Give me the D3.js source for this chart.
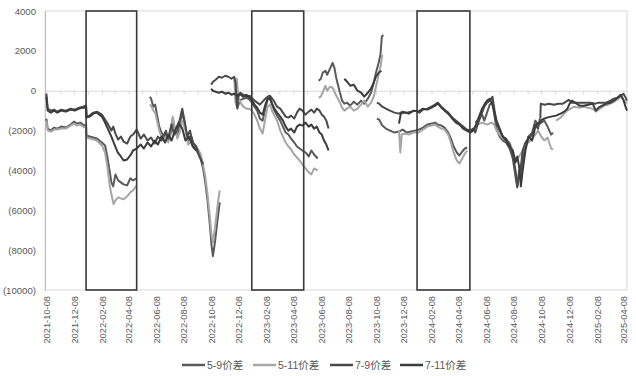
<!DOCTYPE html>
<html>
<head>
<meta charset="utf-8">
<script src="https://cdn.jsdelivr.net/npm/d3@7/dist/d3.min.js"></script>
<style>
  html, body { margin: 0; padding: 0; background: #fff; }
  #chart { width: 636px; height: 376px; }
  text { font-family: 'Liberation Sans', Arial, sans-serif; fill: #595959; }
  .legend text { font-family: 'Liberation Sans', 'Noto Sans CJK SC', sans-serif; }
</style>
</head>
<body>
<div id="chart"></div>
<script>
'use strict';

// x tick labels (every 2 months) and the y ticks
const tickLabels = ['2021-10-08','2021-12-08','2022-02-08','2022-04-08','2022-06-08','2022-08-08',
  '2022-10-08','2022-12-08','2023-02-08','2023-04-08','2023-06-08','2023-08-08','2023-10-08',
  '2023-12-08','2024-02-08','2024-04-08','2024-06-08','2024-08-08','2024-10-08','2024-12-08',
  '2025-02-08','2025-04-08'];
const yTicks = [4000, 2000, 0, -2000, -4000, -6000, -8000, -10000];
const xDomain = ['2021-10-05', '2025-04-16'];

// highlighted periods (Jan - Apr of each year)
const boxes = [['2022-01-04','2022-04-26'], ['2023-01-06','2023-05-01'], ['2024-01-07','2024-05-03']];

const seriesNames = ['5-9价差', '5-11价差', '7-9价差', '7-11价差'];
const seriesColors = ['#5a5a5a', '#a6a6a6', '#4a4a4a', '#3c3c3c'];

// each series: list of segments, each segment a list of [date, value]
const s59 = [
  [['2021-10-08',-1400],['2021-10-11',-1900],['2021-10-18',-2000],['2021-10-25',-1850],['2021-11-01',-1900],
   ['2021-11-10',-1800],['2021-11-20',-1850],['2021-12-01',-1700],['2021-12-08',-1550],['2021-12-15',-1650],
   ['2021-12-22',-1600],['2021-12-28',-1700],['2022-01-04',-1750],['2022-01-05',-2250],['2022-01-12',-2300],
   ['2022-01-20',-2350],['2022-01-28',-2400],['2022-02-08',-2600],['2022-02-15',-2750],['2022-02-20',-3300],
   ['2022-02-25',-4000],['2022-03-01',-4600],['2022-03-05',-4800],['2022-03-10',-4200],['2022-03-16',-4500],
   ['2022-03-22',-4600],['2022-03-28',-4700],['2022-04-05',-4750],['2022-04-12',-4400],['2022-04-18',-4500],
   ['2022-04-26',-4400]],
  [['2022-05-25',-300],['2022-05-28',-400],['2022-06-02',-800],['2022-06-06',-700],['2022-06-10',-1200],
   ['2022-06-15',-1800],['2022-06-20',-2100],['2022-06-25',-2300],['2022-06-30',-2000],['2022-07-05',-2500],
   ['2022-07-10',-2200],['2022-07-15',-1400],['2022-07-20',-2000],['2022-07-25',-2300],['2022-07-30',-1900],
   ['2022-08-04',-1100],['2022-08-08',-1400],['2022-08-12',-1800],['2022-08-18',-2500],['2022-08-25',-2300],
   ['2022-09-01',-2800],['2022-09-08',-3100],['2022-09-15',-3400],['2022-09-20',-3900],['2022-09-25',-4600],
   ['2022-09-30',-5500],['2022-10-05',-6700],['2022-10-09',-7800],['2022-10-12',-8300],['2022-10-17',-7500],
   ['2022-10-22',-6500],['2022-10-27',-5600]],
  [['2022-12-01',-300],['2022-12-05',-900],['2022-12-10',-500],['2022-12-18',-400],['2022-12-25',-350],
   ['2023-01-01',-450],['2023-01-06',-600],['2023-01-12',-800],['2023-01-18',-1000],['2023-01-24',-1400],
   ['2023-01-30',-1500],['2023-02-05',-900],['2023-02-10',-450],['2023-02-15',-400],['2023-02-20',-700],
   ['2023-02-25',-1000],['2023-03-03',-1250],['2023-03-10',-1500],['2023-03-16',-1800],['2023-03-22',-2100],
   ['2023-03-28',-2200],['2023-04-03',-2400],['2023-04-10',-2600],['2023-04-16',-2800],['2023-04-22',-2900],
   ['2023-04-28',-3000],['2023-05-05',-3100],['2023-05-12',-3300],['2023-05-18',-3000],['2023-05-24',-3200],
   ['2023-06-01',-3400]],
  [['2023-06-03',500],['2023-06-08',600],['2023-06-12',900],['2023-06-18',1000],['2023-06-22',800],
   ['2023-06-28',1100],['2023-07-04',1400],['2023-07-08',1150],['2023-07-12',650],['2023-07-18',100],
   ['2023-07-25',-500],['2023-07-30',-650],['2023-08-05',-600],['2023-08-12',-750],['2023-08-20',-550],
   ['2023-08-28',-700],['2023-09-05',-500],['2023-09-12',-650],['2023-09-20',-400],['2023-09-27',-100],
   ['2023-10-03',400],['2023-10-08',900],['2023-10-14',1400],['2023-10-18',1800],['2023-10-21',2700],
   ['2023-10-24',2800]],
  [['2023-10-10',-1400],['2023-10-15',-1450],['2023-10-22',-1750],['2023-10-30',-1900],['2023-11-08',-2000],
   ['2023-11-18',-2100],['2023-11-28',-2050],['2023-12-06',-1950],['2023-12-15',-2100],['2023-12-25',-2050],
   ['2024-01-04',-2000],['2024-01-12',-1950],['2024-01-20',-1850],['2024-01-30',-1700],['2024-02-08',-1650],
   ['2024-02-16',-1600],['2024-02-22',-1700],['2024-03-01',-1750],['2024-03-08',-1850],['2024-03-16',-2100],
   ['2024-03-22',-2400],['2024-03-28',-2800],['2024-04-04',-3100],['2024-04-10',-3250],['2024-04-16',-3050],
   ['2024-04-22',-2900],['2024-04-27',-2850]],
  [['2024-05-15',-1600],['2024-05-20',-1500],['2024-05-25',-1300],['2024-05-30',-1200],['2024-06-04',-1500],
   ['2024-06-10',-1100],['2024-06-16',-700],['2024-06-22',-600],['2024-06-26',-1200],['2024-07-01',-1900],
   ['2024-07-08',-2300],['2024-07-15',-2500],['2024-07-22',-2600],['2024-07-30',-2900],['2024-08-06',-3400],
   ['2024-08-12',-4300],['2024-08-16',-4850],['2024-08-20',-4000],['2024-08-24',-4500],['2024-08-28',-3500],
   ['2024-09-03',-2800],['2024-09-10',-2300],['2024-09-18',-2100],['2024-09-25',-1500],['2024-10-01',-1700],
   ['2024-10-08',-1600],['2024-10-15',-1500],['2024-10-22',-1800],['2024-10-30',-2200],['2024-11-03',-2100]]
];

const s511 = [
  [['2021-10-08',-1500],['2021-10-11',-2000],['2021-10-18',-2050],['2021-10-25',-1950],['2021-11-01',-1950],
   ['2021-11-10',-1900],['2021-11-20',-1900],['2021-12-01',-1750],['2021-12-08',-1650],['2021-12-15',-1750],
   ['2021-12-22',-1700],['2021-12-28',-1800],['2022-01-04',-1850],['2022-01-05',-2350],['2022-01-12',-2400],
   ['2022-01-20',-2450],['2022-01-28',-2500],['2022-02-08',-2750],['2022-02-15',-3100],['2022-02-20',-3800],
   ['2022-02-25',-4700],['2022-03-01',-5200],['2022-03-06',-5700],['2022-03-10',-5500],['2022-03-16',-5350],
   ['2022-03-22',-5400],['2022-03-28',-5450],['2022-04-05',-5300],['2022-04-12',-5100],['2022-04-18',-5000],
   ['2022-04-26',-4750]],
  [['2022-05-25',-700],['2022-05-28',-750],['2022-06-02',-1000],['2022-06-06',-1100],['2022-06-10',-1500],
   ['2022-06-15',-2000],['2022-06-20',-2300],['2022-06-25',-2500],['2022-06-30',-2200],['2022-07-05',-2600],
   ['2022-07-10',-2000],['2022-07-15',-1300],['2022-07-20',-1900],['2022-07-25',-2400],['2022-07-30',-2100],
   ['2022-08-04',-1500],['2022-08-08',-1700],['2022-08-12',-2000],['2022-08-18',-2700],['2022-08-25',-2500],
   ['2022-09-01',-2700],['2022-09-08',-2900],['2022-09-15',-3200],['2022-09-20',-3700],['2022-09-25',-4300],
   ['2022-09-30',-5200],['2022-10-05',-6300],['2022-10-09',-7300],['2022-10-12',-7600],['2022-10-17',-6800],
   ['2022-10-22',-5800],['2022-10-27',-5000]],
  [['2022-11-28',700],['2022-12-01',-600],['2022-12-04',600],['2022-12-07',-300],['2022-12-12',-600],
   ['2022-12-18',-800],['2022-12-25',-900],['2023-01-01',-900],['2023-01-06',-1000],['2023-01-12',-1200],
   ['2023-01-18',-1500],['2023-01-24',-1900],['2023-01-30',-2150],['2023-02-05',-1400],['2023-02-10',-800],
   ['2023-02-15',-700],['2023-02-20',-1000],['2023-02-25',-1250],['2023-03-03',-1500],['2023-03-10',-2000],
   ['2023-03-16',-2300],['2023-03-22',-2600],['2023-03-28',-2800],['2023-04-03',-2950],['2023-04-10',-3200],
   ['2023-04-16',-3350],['2023-04-22',-3500],['2023-04-28',-3700],['2023-05-05',-3900],['2023-05-12',-4100],
   ['2023-05-18',-4200],['2023-05-24',-3900],['2023-06-01',-4000]],
  [['2023-06-03',-350],['2023-06-08',-300],['2023-06-12',-100],['2023-06-18',250],['2023-06-22',0],
   ['2023-06-28',200],['2023-07-04',150],['2023-07-10',-150],['2023-07-18',-500],['2023-07-25',-850],
   ['2023-07-30',-1000],['2023-08-05',-900],['2023-08-12',-800],['2023-08-20',-1000],['2023-08-28',-900],
   ['2023-09-05',-700],['2023-09-12',-500],['2023-09-20',-800],['2023-09-27',-600],['2023-10-03',-300],
   ['2023-10-08',200],['2023-10-14',800],['2023-10-18',1200],['2023-10-22',1800]],
  [['2023-11-28',-2000],['2023-12-01',-3100],['2023-12-04',-2200],['2023-12-10',-2150],['2023-12-20',-2200],
   ['2023-12-30',-2100],['2024-01-10',-2100],['2024-01-20',-1950],['2024-01-30',-1800],['2024-02-08',-1750],
   ['2024-02-16',-1700],['2024-02-22',-1800],['2024-03-01',-1900],['2024-03-08',-1950],['2024-03-16',-2200],
   ['2024-03-22',-2600],['2024-03-28',-3100],['2024-04-04',-3500],['2024-04-10',-3650],['2024-04-16',-3400],
   ['2024-04-22',-3150],['2024-04-27',-3000]],
  [['2024-05-20',-1700],['2024-05-30',-1600],['2024-06-10',-1700],['2024-06-20',-1600],['2024-06-26',-1700],
   ['2024-07-01',-2000],['2024-07-08',-2200],['2024-07-15',-2400],['2024-07-22',-2500],['2024-07-30',-2600],
   ['2024-08-06',-3000],['2024-08-12',-3500],['2024-08-16',-3400],['2024-08-20',-3300],['2024-08-28',-3000],
   ['2024-09-03',-2700],['2024-09-10',-2600],['2024-09-18',-2400],['2024-09-25',-2200],['2024-10-01',-2000],
   ['2024-10-08',-2300],['2024-10-15',-2500],['2024-10-22',-2350],['2024-10-30',-2900],['2024-11-03',-2950]],
  [['2024-11-10',-1500],['2024-11-20',-1350],['2024-11-28',-1150],['2024-12-05',-1000],['2024-12-12',-900],
   ['2024-12-20',-800],['2025-01-01',-850],['2025-01-10',-800],['2025-01-20',-850],['2025-01-30',-900],
   ['2025-02-06',-1050],['2025-02-15',-900],['2025-02-25',-750],['2025-03-05',-700],['2025-03-15',-600],
   ['2025-03-25',-450],['2025-04-02',-300],['2025-04-10',-500],['2025-04-16',-650]]
];

const s79 = [
  [['2021-10-08',-150],['2021-10-11',-900],['2021-10-18',-1000],['2021-10-25',-950],['2021-11-01',-1050],
   ['2021-11-10',-950],['2021-11-20',-1000],['2021-12-01',-900],['2021-12-10',-950],['2021-12-20',-850],
   ['2021-12-28',-800],['2022-01-04',-750],['2022-01-05',-1300],['2022-01-12',-1250],['2022-01-20',-1100],
   ['2022-01-28',-1050],['2022-02-08',-1200],['2022-02-15',-1450],['2022-02-22',-1700],['2022-03-01',-2000],
   ['2022-03-05',-1800],['2022-03-10',-2150],['2022-03-16',-2450],['2022-03-22',-2300],['2022-03-28',-2550],
   ['2022-04-05',-2650],['2022-04-12',-2300],['2022-04-18',-2200],['2022-04-26',-1950],['2022-04-28',-2050],
   ['2022-05-05',-2400],['2022-05-12',-2200],['2022-05-20',-2500],['2022-05-28',-2350],['2022-06-05',-2650],
   ['2022-06-12',-2300],['2022-06-20',-2500],['2022-06-28',-2100],['2022-07-05',-2400],['2022-07-12',-1700],
   ['2022-07-18',-2200],['2022-07-25',-2000],['2022-08-01',-1300],['2022-08-05',-900],['2022-08-10',-1500],
   ['2022-08-16',-2300],['2022-08-22',-2000],['2022-08-28',-2600],['2022-09-05',-2800],['2022-09-12',-3300],
   ['2022-09-20',-3700]],
  [['2022-10-08',300],['2022-10-12',450],['2022-10-18',550],['2022-10-25',700],['2022-11-01',650],
   ['2022-11-08',750],['2022-11-15',700],['2022-11-22',600],['2022-11-28',700],['2022-12-01',400],
   ['2022-12-04',-800],['2022-12-07',-300],['2022-12-12',-100],['2022-12-18',-200],['2022-12-25',-300],
   ['2023-01-01',-250],['2023-01-06',-350],['2023-01-12',-500],['2023-01-18',-600],['2023-01-24',-700],
   ['2023-01-30',-550],['2023-02-05',-400],['2023-02-10',-300],['2023-02-15',-250],['2023-02-20',-400],
   ['2023-02-25',-550],['2023-03-03',-800],['2023-03-10',-900],['2023-03-16',-1100],['2023-03-22',-1300],
   ['2023-03-28',-1350],['2023-04-03',-1250],['2023-04-10',-1400],['2023-04-16',-1100],['2023-04-22',-900],
   ['2023-04-28',-1000],['2023-05-05',-1200],['2023-05-12',-1050],['2023-05-18',-950],['2023-05-24',-1100],
   ['2023-05-30',-900],['2023-06-05',-1000],['2023-06-10',-1200],['2023-06-15',-1300],['2023-06-20',-1500],
   ['2023-06-25',-1900]],
  [['2023-10-10',-600],['2023-10-15',-650],['2023-10-22',-800],['2023-10-30',-900],['2023-11-08',-1000],
   ['2023-11-18',-1100],['2023-11-28',-1150],['2023-12-06',-1050],['2023-12-15',-1100],['2023-12-25',-1050],
   ['2024-01-04',-1000],['2024-01-12',-1100],['2024-01-20',-950],['2024-01-30',-900],['2024-02-08',-800],
   ['2024-02-16',-700],['2024-02-22',-600],['2024-03-01',-800],['2024-03-08',-950],['2024-03-16',-1100],
   ['2024-03-25',-1350],['2024-04-02',-1500],['2024-04-10',-1650],['2024-04-18',-1800],['2024-04-26',-1950],
   ['2024-05-04',-2000],['2024-05-10',-1900],['2024-05-15',-2100],['2024-05-20',-1700],['2024-05-25',-1400],
   ['2024-05-30',-1100],['2024-06-04',-800],['2024-06-10',-600],['2024-06-16',-500],['2024-06-22',-300],
   ['2024-06-26',-900],['2024-07-01',-1600],['2024-07-08',-2000],['2024-07-15',-2300],['2024-07-22',-2400],
   ['2024-07-30',-2700],['2024-08-06',-3200],['2024-08-12',-4000],['2024-08-16',-4800],['2024-08-20',-4200],
   ['2024-08-24',-3800],['2024-08-28',-3000],['2024-09-03',-2600],['2024-09-10',-2400],['2024-09-18',-2200],
   ['2024-09-25',-1700],['2024-10-01',-1900],['2024-10-05',-1400]],
  [['2024-10-06',-1400],['2024-10-07',-650],['2024-10-15',-700],['2024-10-25',-650],['2024-11-05',-700],
   ['2024-11-15',-650],['2024-11-25',-650],['2024-12-02',-550],['2024-12-08',-450],['2024-12-15',-600],
   ['2024-12-25',-600],['2025-01-05',-600],['2025-01-15',-600],['2025-01-25',-600],['2025-02-05',-650],
   ['2025-02-12',-600],['2025-02-20',-600],['2025-03-01',-600],['2025-03-10',-500],['2025-03-18',-400],
   ['2025-03-26',-350],['2025-04-02',-250],['2025-04-08',-150],['2025-04-12',-300],['2025-04-16',-500]]
];

const s711 = [
  [['2021-10-08',-300],['2021-10-11',-1000],['2021-10-18',-1100],['2021-10-25',-1000],['2021-11-01',-1100],
   ['2021-11-10',-1000],['2021-11-20',-1050],['2021-12-01',-950],['2021-12-10',-1000],['2021-12-20',-900],
   ['2021-12-28',-850],['2022-01-04',-850],['2022-01-05',-1350],['2022-01-12',-1300],['2022-01-20',-1150],
   ['2022-01-28',-1100],['2022-02-08',-1300],['2022-02-15',-1600],['2022-02-22',-1950],['2022-03-01',-2300],
   ['2022-03-08',-2700],['2022-03-15',-3100],['2022-03-22',-3300],['2022-03-28',-3500],['2022-04-05',-3450],
   ['2022-04-12',-3250],['2022-04-18',-3000],['2022-04-26',-2900],['2022-05-05',-2700],['2022-05-12',-2900],
   ['2022-05-20',-2600],['2022-05-28',-2800],['2022-06-05',-2500],['2022-06-12',-2700],['2022-06-20',-2300],
   ['2022-06-28',-2600],['2022-07-05',-2200],['2022-07-12',-2500],['2022-07-20',-2000],['2022-07-28',-1600],
   ['2022-08-05',-1900],['2022-08-12',-2500],['2022-08-20',-2300],['2022-08-28',-2800],['2022-09-05',-3000]],
  [['2022-10-08',100],['2022-10-12',0],['2022-10-18',-50],['2022-10-25',-100],['2022-11-01',-50],
   ['2022-11-08',-150],['2022-11-15',-100],['2022-11-22',-200],['2022-11-28',-150],['2022-12-04',-250],
   ['2022-12-10',-150],['2022-12-18',-300],['2022-12-25',-200],['2023-01-01',-350],['2023-01-06',-450],
   ['2023-01-12',-700],['2023-01-18',-850],['2023-01-24',-1100],['2023-01-30',-1200],['2023-02-05',-700],
   ['2023-02-10',-400],['2023-02-15',-350],['2023-02-20',-650],['2023-02-25',-900],['2023-03-03',-1100],
   ['2023-03-10',-1300],['2023-03-16',-1500],['2023-03-22',-1800],['2023-03-28',-2000],['2023-04-03',-1900],
   ['2023-04-10',-2100],['2023-04-16',-1800],['2023-04-22',-1700],['2023-04-28',-1750],['2023-05-05',-1600],
   ['2023-05-12',-1800],['2023-05-18',-1700],['2023-05-24',-1900],['2023-05-30',-1800],['2023-06-05',-2100],
   ['2023-06-10',-2200],['2023-06-15',-2500],['2023-06-20',-2700],['2023-06-25',-3000]],
  [['2023-07-30',600],['2023-08-05',450],['2023-08-12',250],['2023-08-20',300],['2023-08-28',0],
   ['2023-09-05',-100],['2023-09-12',-300],['2023-09-20',-100],['2023-09-27',100],['2023-10-03',400],
   ['2023-10-08',700],['2023-10-14',900],['2023-10-20',1000]],
  [['2023-11-28',-1650],['2023-12-02',-1150],['2023-12-10',-1100],['2023-12-20',-1150],['2023-12-30',-1000],
   ['2024-01-10',-1050],['2024-01-20',-900],['2024-01-30',-950],['2024-02-08',-850],['2024-02-16',-750],
   ['2024-02-22',-650],['2024-03-01',-850],['2024-03-08',-1000],['2024-03-16',-1150],['2024-03-25',-1400],
   ['2024-04-02',-1600],['2024-04-10',-1700],['2024-04-18',-1900],['2024-04-26',-2000],['2024-05-04',-2100],
   ['2024-05-10',-2000],['2024-05-15',-1800],['2024-05-20',-1500],['2024-05-25',-1200],['2024-05-30',-900],
   ['2024-06-04',-700],['2024-06-10',-500],['2024-06-16',-400],['2024-06-22',-700],['2024-07-01',-1500],
   ['2024-07-08',-1900],['2024-07-15',-2300],['2024-07-22',-2500],['2024-07-30',-2800],['2024-08-06',-3000],
   ['2024-08-12',-3600],['2024-08-16',-3300],['2024-08-20',-3800],['2024-08-24',-4800],['2024-08-28',-4000],
   ['2024-09-03',-3000],['2024-09-10',-2300],['2024-09-18',-2500],['2024-09-25',-1800],['2024-10-01',-1600]],
  [['2024-10-02',-1700],['2024-10-10',-1450],['2024-10-20',-1350],['2024-10-30',-1300],['2024-11-10',-1250],
   ['2024-11-20',-1150],['2024-11-28',-1050],['2024-12-05',-900],['2024-12-10',-650],['2024-12-15',-500],
   ['2024-12-22',-600],['2025-01-01',-750],['2025-01-10',-750],['2025-01-20',-700],['2025-01-30',-650],
   ['2025-02-06',-1000],['2025-02-12',-850],['2025-02-20',-750],['2025-03-01',-650],['2025-03-10',-600],
   ['2025-03-18',-500],['2025-03-26',-350],['2025-04-02',-200],['2025-04-08',-450],['2025-04-12',-750],
   ['2025-04-16',-1000]]
];

const allSeries = [s59, s511, s79, s711];

const PLOT = { left: 45, right: 627, top: 11, bottom: 290 };
const parse = d3.timeParse('%Y-%m-%d');

const svg = d3.select('#chart').append('svg')
  .attr('width', 636).attr('height', 376);

const x = d3.scaleTime()
  .domain(xDomain.map(parse))
  .range([PLOT.left, PLOT.right]);

const y = d3.scaleLinear()
  .domain([-10000, 4000])
  .range([PLOT.bottom, PLOT.top]);

const fmtY = v => v < 0 ? `(${Math.abs(v)})` : String(v);

// plot frame (top / right / bottom)
svg.append('rect')
  .attr('x', PLOT.left).attr('y', PLOT.top)
  .attr('width', PLOT.right - PLOT.left).attr('height', PLOT.bottom - PLOT.top)
  .attr('fill', 'none').attr('stroke', '#d9d9d9').attr('stroke-width', 1);

// Y axis
svg.append('g')
  .attr('transform', `translate(${PLOT.left},0)`)
  .call(d3.axisLeft(y).tickValues(yTicks).tickSize(0).tickPadding(9).tickFormat(fmtY))
  .call(g => g.select('.domain').attr('stroke', '#bfbfbf'))
  .call(g => g.selectAll('text').style('font-size', '9.6px').attr('fill', '#595959'));

// zero line with monthly tick marks
const monthTicks = d3.timeMonth.range(parse('2021-10-01'), parse('2025-05-01'))
  .map(d => new Date(d.getFullYear(), d.getMonth(), 8))
  .filter(d => d >= x.domain()[0] && d <= x.domain()[1]);

svg.append('g')
  .attr('transform', `translate(0,${y(0)})`)
  .call(d3.axisBottom(x).tickValues(monthTicks).tickSize(4).tickSizeOuter(0).tickFormat(''))
  .call(g => g.select('.domain').attr('stroke', '#d9d9d9'))
  .call(g => g.selectAll('.tick line').attr('stroke', '#d9d9d9'));

// X labels at the bottom
svg.append('g')
  .attr('transform', `translate(0,${PLOT.bottom})`)
  .call(d3.axisBottom(x).tickValues(tickLabels.map(parse)).tickSize(0).tickFormat(d3.timeFormat('%Y-%m-%d')))
  .call(g => g.select('.domain').remove())
  .selectAll('text')
  .attr('transform', 'rotate(-90)')
  .attr('text-anchor', 'end')
  .attr('x', -6).attr('y', 0).attr('dy', '0.35em')
  .style('font-size', '9.3px')
  .attr('fill', '#595959');

// series lines
const line = d3.line()
  .x(d => x(parse(d[0])))
  .y(d => y(d[1]));

allSeries.forEach((segs, i) => {
  svg.append('g')
    .selectAll('path')
    .data(segs)
    .join('path')
    .attr('d', line)
    .attr('fill', 'none')
    .attr('stroke', seriesColors[i])
    .attr('stroke-width', 2)
    .attr('stroke-linejoin', 'round');
});

// highlight boxes
svg.append('g')
  .selectAll('rect')
  .data(boxes)
  .join('rect')
  .attr('x', d => x(parse(d[0])))
  .attr('y', y(4000))
  .attr('width', d => x(parse(d[1])) - x(parse(d[0])))
  .attr('height', y(-10000) - y(4000))
  .attr('fill', 'none')
  .attr('stroke', '#3a3a3a')
  .attr('stroke-width', 1.6);

// legend
const legendX = [182, 253, 330, 400];
const legend = svg.append('g').attr('class', 'legend');
seriesNames.forEach((name, i) => {
  legend.append('line')
    .attr('x1', legendX[i]).attr('x2', legendX[i] + 23)
    .attr('y1', 365).attr('y2', 365)
    .attr('stroke', seriesColors[i]).attr('stroke-width', 2.5);
  legend.append('text')
    .attr('x', legendX[i] + 25).attr('y', 365)
    .attr('dy', '0.35em')
    .style('font-size', '10.5px')
    .attr('fill', '#595959')
    .text(name);
});
</script>
</body>
</html>
